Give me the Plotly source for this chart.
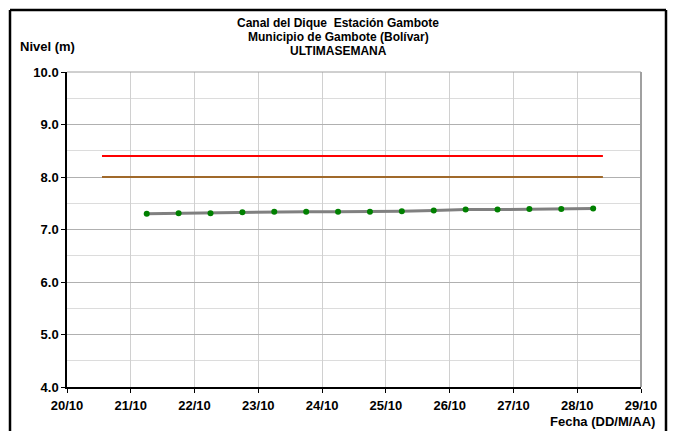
import plotly.graph_objects as go

fechas = ["2023-10-21 06:00", "2023-10-21 18:00", "2023-10-22 06:00", "2023-10-22 18:00",
          "2023-10-23 06:00", "2023-10-23 18:00", "2023-10-24 06:00", "2023-10-24 18:00",
          "2023-10-25 06:00", "2023-10-25 18:00", "2023-10-26 06:00", "2023-10-26 18:00",
          "2023-10-27 06:00", "2023-10-27 18:00", "2023-10-28 06:00"]
niveles = [7.30, 7.31, 7.31, 7.33, 7.34, 7.34, 7.34, 7.34, 7.35, 7.36, 7.38, 7.38, 7.39, 7.39, 7.40]

umbral_fechas = ["2023-10-20 13:10", "2023-10-28 09:40"]
alerta_roja = [8.4, 8.4]
alerta_naranja = [8.0, 8.0]

tick_vals = ["2023-10-%02d" % d for d in range(20, 30)]
tick_text = ["%d/10" % d for d in range(20, 30)]

titulo = ["Canal del Dique  Estación Gambote", "Municipio de Gambote (Bolívar)", "ULTIMASEMANA"]

# page is offset by 8px (body margin); work in figure-local pixels
OFF = 8
W, H = 676 - OFF, 431 - OFF
L, R, T, B = 67 - OFF, 641 - OFF, 72 - OFF, 387 - OFF
pw, ph = R - L, B - T
font = "Liberation Sans"


def px(x):
    return (x - OFF - L) / pw


def py(y):
    return (B - (y - OFF)) / ph


fig = go.Figure()
fig.add_trace(go.Scatter(x=umbral_fechas, y=alerta_roja, mode="lines",
                         line=dict(color="#ff0000", width=2), showlegend=False))
fig.add_trace(go.Scatter(x=umbral_fechas, y=alerta_naranja, mode="lines",
                         line=dict(color="#a0692a", width=2), showlegend=False))
fig.add_trace(go.Scatter(x=fechas, y=niveles, mode="lines+markers",
                         line=dict(color="#808080", width=3),
                         marker=dict(color="#008000", size=6), showlegend=False))

# outer black frame
border = dict(color="black", width=2.5)
fig.add_shape(type="line", xref="paper", yref="paper", x0=px(10), x1=px(10), y0=py(440), y1=py(10), line=border)
fig.add_shape(type="line", xref="paper", yref="paper", x0=px(666), x1=px(666), y0=py(440), y1=py(10), line=border)
fig.add_shape(type="line", xref="paper", yref="paper", x0=px(10), x1=px(666), y0=py(10), y1=py(10), line=border)

fig.update_layout(
    width=W, height=H,
    margin=dict(l=L, r=W - R, t=T, b=H - B),
    paper_bgcolor="white", plot_bgcolor="white",
    font=dict(family=font, size=13, color="black"),
    xaxis=dict(type="date", range=["2023-10-20", "2023-10-29"],
               tickvals=tick_vals, ticktext=tick_text,
               tickfont=dict(family=font, size=13, weight="bold"),
               showgrid=True, gridcolor="#d0d0d0", gridwidth=1,
               ticks="outside", ticklen=4, tickcolor="black",
               showline=True, linecolor="black", linewidth=1.5,
               mirror=False, zeroline=False, ticklabelstandoff=2),
    yaxis=dict(range=[4, 10], tickvals=[4, 5, 6, 7, 8, 9, 10],
               ticktext=["4.0", "5.0", "6.0", "7.0", "8.0", "9.0", "10.0"],
               tickfont=dict(family=font, size=13, weight="bold"),
               showgrid=True, gridcolor="#b0b0b0", gridwidth=1,
               minor=dict(dtick=0.5, showgrid=True, gridcolor="#dcdcdc", gridwidth=1),
               ticks="outside", ticklen=4, tickcolor="black",
               showline=True, linecolor="black", linewidth=1.5, zeroline=False),
)
# right and top plot frame (gray)
fig.add_shape(type="line", xref="paper", yref="paper", x0=1, x1=1, y0=0, y1=1,
              line=dict(color="#a0a0a0", width=2))
fig.add_shape(type="line", xref="paper", yref="paper", x0=0, x1=1, y0=1, y1=1,
              line=dict(color="#a0a0a0", width=1))

for i, linea in enumerate(titulo):
    fig.add_annotation(text="<b>%s</b>" % linea, xref="paper", yref="paper",
                       x=px(338), y=py(23 + 14 * i), xanchor="center", yanchor="middle",
                       showarrow=False, font=dict(family=font, size=12))

fig.add_annotation(text="<b>Nivel (m)</b>", xref="paper", yref="paper",
                   x=px(18), y=py(46), xanchor="left", yanchor="middle",
                   showarrow=False, font=dict(family=font, size=13))
fig.add_annotation(text="<b>Fecha (DD/M/AA)</b>", xref="paper", yref="paper",
                   x=px(657), y=py(421), xanchor="right", yanchor="middle",
                   showarrow=False, font=dict(family=font, size=13))

fig.write_html("out.html")
